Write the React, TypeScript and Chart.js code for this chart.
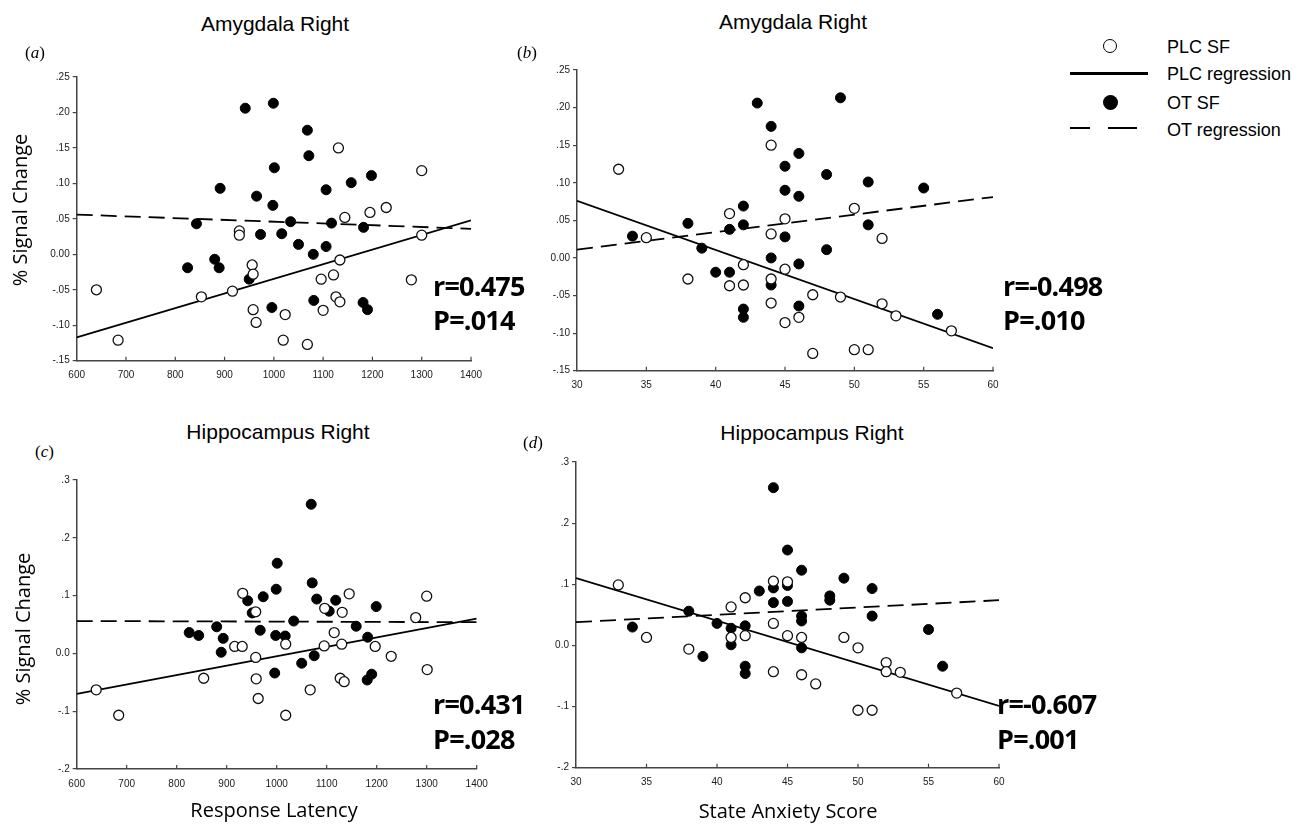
import React, { useEffect, useRef } from "react";
import { Chart, registerables } from "chart.js";

Chart.register(...registerables);

// ---------- tick values / labels ----------
const latencyTickValues = [600, 700, 800, 900, 1000, 1100, 1200, 1300, 1400];
const latencyTickLabels = ["600", "700", "800", "900", "1000", "1100", "1200", "1300", "1400"];
const anxietyTickValues = [30, 35, 40, 45, 50, 55, 60];
const anxietyTickLabels = ["30", "35", "40", "45", "50", "55", "60"];
const amygdalaTickValues = [-0.15, -0.1, -0.05, 0, 0.05, 0.1, 0.15, 0.2, 0.25];
const amygdalaTickLabels = ["-.15", "-.10", "-.05", "0.00", ".05", ".10", ".15", ".20", ".25"];
const hippoTickValues = [-0.2, -0.1, 0, 0.1, 0.2, 0.3];
const hippoTickLabels = ["-.2", "-.1", "0.0", ".1", ".2", ".3"];

// ---------- (a) Amygdala Right vs Response Latency ----------
const plcLatencyA = [1131, 1300, 1228, 1195, 1144, 930, 930, 1300, 1134, 956, 958, 1121, 1096, 1279, 640, 853, 916, 1126, 1134, 958, 964, 1023, 1100, 684, 1019, 1068];
const plcSignalA = [0.15, 0.118, 0.066, 0.059, 0.052, 0.033, 0.027, 0.027, -0.008, -0.015, -0.028, -0.029, -0.035, -0.036, -0.05, -0.06, -0.052, -0.06, -0.067, -0.078, -0.096, -0.085, -0.079, -0.121, -0.121, -0.127];
const otLatencyA = [942, 999, 1068, 1071, 1001, 1198, 891, 1106, 1157, 965, 998, 843, 1034, 1117, 1182, 973, 1016, 1050, 1106, 1080, 825, 880, 889, 950, 996, 1081, 1181, 1190];
const otSignalA = [0.206, 0.213, 0.175, 0.139, 0.122, 0.111, 0.093, 0.091, 0.101, 0.082, 0.069, 0.043, 0.046, 0.044, 0.038, 0.028, 0.029, 0.014, 0.011, 0.0, -0.019, -0.007, -0.019, -0.035, -0.075, -0.065, -0.068, -0.078];
const plcFitXA = [600, 1400];
const plcFitYA = [-0.117, 0.048];
const otFitXA = [600, 1400];
const otFitYA = [0.056, 0.036];

// ---------- (b) Amygdala Right vs State Anxiety ----------
const plcAnxietyB = [33, 44, 41, 45, 50, 35, 44, 52, 42, 45, 38, 44, 41, 42, 47, 49, 44, 52, 45, 46, 53, 57, 47, 50, 51];
const plcSignalB = [0.118, 0.15, 0.059, 0.052, 0.066, 0.027, 0.032, 0.026, -0.009, -0.015, -0.028, -0.028, -0.037, -0.036, -0.049, -0.052, -0.06, -0.061, -0.086, -0.079, -0.077, -0.097, -0.127, -0.122, -0.122];
const otAnxietyB = [43, 49, 44, 46, 45, 48, 51, 45, 55, 46, 42, 38, 42, 41, 51, 34, 45, 39, 48, 44, 46, 40, 41, 44, 42, 42, 46, 56];
const otSignalB = [0.206, 0.213, 0.175, 0.139, 0.122, 0.111, 0.101, 0.09, 0.093, 0.082, 0.069, 0.046, 0.044, 0.038, 0.044, 0.029, 0.028, 0.013, 0.011, 0.0, -0.008, -0.019, -0.019, -0.036, -0.068, -0.079, -0.064, -0.075];
const plcFitXB = [30, 60];
const plcFitYB = [0.076, -0.12];
const otFitXB = [30, 60];
const otFitYB = [0.011, 0.081];

// ---------- (c) Hippocampus Right vs Response Latency ----------
const plcLatencyC = [932, 1145, 1300, 958, 1096, 1131, 1278, 1115, 916, 931, 1018, 1095, 1130, 1197, 958, 1229, 854, 959, 1127, 1135, 1301, 639, 1067, 963, 684, 1018];
const plcSignalC = [0.104, 0.103, 0.099, 0.072, 0.078, 0.071, 0.062, 0.036, 0.012, 0.012, 0.016, 0.013, 0.016, 0.012, -0.007, -0.005, -0.043, -0.044, -0.043, -0.049, -0.028, -0.063, -0.063, -0.078, -0.107, -0.107];
const otLatencyC = [1069, 1001, 1071, 999, 973, 942, 1080, 1118, 951, 1105, 1199, 1034, 825, 844, 880, 967, 1159, 893, 998, 1017, 1182, 889, 1075, 1050, 996, 1190, 1181];
const otSignalC = [0.258, 0.156, 0.122, 0.111, 0.098, 0.091, 0.094, 0.092, 0.07, 0.073, 0.081, 0.056, 0.036, 0.031, 0.046, 0.04, 0.047, 0.026, 0.031, 0.03, 0.028, 0.002, -0.004, -0.017, -0.034, -0.036, -0.046];
const plcFitXC = [600, 1400];
const plcFitYC = [-0.07, 0.06];
const otFitXC = [600, 1400];
const otFitYC = [0.056, 0.054];

// ---------- (d) Hippocampus Right vs State Anxiety ----------
const plcAnxietyD = [33, 44, 45, 42, 41, 44, 35, 41, 42, 45, 46, 49, 38, 50, 52, 52, 53, 44, 46, 47, 57, 50, 51];
const plcSignalD = [0.099, 0.105, 0.104, 0.078, 0.063, 0.036, 0.013, 0.013, 0.016, 0.016, 0.013, 0.013, -0.006, -0.004, -0.028, -0.043, -0.044, -0.043, -0.048, -0.063, -0.078, -0.106, -0.106];
const otAnxietyD = [44, 45, 46, 49, 43, 44, 45, 51, 48, 48, 44, 45, 38, 46, 46, 51, 40, 34, 41, 42, 55, 41, 46, 39, 42, 42, 56];
const otSignalD = [0.258, 0.156, 0.123, 0.11, 0.089, 0.094, 0.098, 0.093, 0.081, 0.074, 0.07, 0.072, 0.056, 0.048, 0.04, 0.048, 0.036, 0.03, 0.028, 0.032, 0.026, 0.001, -0.004, -0.018, -0.034, -0.046, -0.034];
const plcFitXD = [30, 60];
const plcFitYD = [0.11, -0.099];
const otFitXD = [30, 60];
const otFitYD = [0.038, 0.074];

type Pt = { x: number; y: number };
const zip = (xs: number[], ys: number[]): Pt[] => xs.map((x, i) => ({ x, y: ys[i] }));

const AXIS = "#444";
const TICK_TXT = "#1a1a1a";

const innerXTicks = {
  id: "innerXTicks",
  afterDraw(chart: any) {
    const xs = chart.scales.x;
    const ctx = chart.ctx;
    const b = chart.chartArea.bottom;
    ctx.save();
    ctx.strokeStyle = AXIS;
    ctx.lineWidth = 1.2;
    xs.ticks.forEach((t: any, i: number) => {
      if (i === 0) return;
      const px = xs.getPixelForValue(t.value);
      ctx.beginPath();
      ctx.moveTo(px, b);
      ctx.lineTo(px, b - 4);
      ctx.stroke();
    });
    ctx.restore();
  },
};

interface PanelProps {
  left: number;
  top: number;
  width: number;
  height: number;
  padTop: number;
  padRight: number;
  yWidth: number;
  xHeight: number;
  xVals: number[];
  xLabels: string[];
  yVals: number[];
  yLabels: string[];
  plc: Pt[];
  ot: Pt[];
  plcFit: Pt[];
  otFit: Pt[];
}

function Panel(p: PanelProps) {
  const ref = useRef<HTMLCanvasElement>(null);
  useEffect(() => {
    if (!ref.current) return;
    const tickFont = { family: "'Liberation Sans', Arial, sans-serif", size: 10 };
    const chart = new Chart(ref.current, {
      type: "scatter",
      data: {
        datasets: [
          {
            label: "PLC SF",
            data: p.plc,
            pointStyle: "circle",
            pointRadius: 5,
            pointBackgroundColor: "#ffffff",
            pointBorderColor: "#111",
            pointBorderWidth: 1.3,
          },
          {
            label: "OT SF",
            data: p.ot,
            pointStyle: "circle",
            pointRadius: 5,
            pointBackgroundColor: "#000",
            pointBorderColor: "#000",
            pointBorderWidth: 1,
          },
          {
            label: "PLC regression",
            data: p.plcFit,
            showLine: true,
            borderColor: "#000",
            borderWidth: 1.8,
            pointRadius: 0,
            fill: false,
          } as any,
          {
            label: "OT regression",
            data: p.otFit,
            showLine: true,
            borderColor: "#000",
            borderWidth: 1.8,
            borderDash: [16, 8],
            pointRadius: 0,
            fill: false,
          } as any,
        ],
      },
      options: {
        animation: false,
        responsive: false,
        maintainAspectRatio: false,
        events: [],
        layout: { padding: { top: p.padTop, right: p.padRight, left: 0, bottom: 0 } },
        plugins: { legend: { display: false }, tooltip: { enabled: false }, title: { display: false } },
        scales: {
          x: {
            type: "linear",
            min: p.xVals[0],
            max: p.xVals[p.xVals.length - 1],
            afterBuildTicks: (s: any) => {
              s.ticks = p.xVals.map((v) => ({ value: v }));
            },
            afterFit: (s: any) => {
              s.height = p.xHeight;
            },
            ticks: {
              callback: (_v: any, i: number) => p.xLabels[i],
              padding: 9,
              font: tickFont,
              color: TICK_TXT,
              maxRotation: 0,
              autoSkip: false,
            },
            grid: { display: false, drawTicks: false },
            border: { display: true, color: AXIS, width: 1.5 },
          },
          y: {
            type: "linear",
            min: p.yVals[0],
            max: p.yVals[p.yVals.length - 1],
            afterBuildTicks: (s: any) => {
              s.ticks = p.yVals.map((v) => ({ value: v }));
            },
            afterFit: (s: any) => {
              s.width = p.yWidth;
            },
            ticks: {
              callback: (_v: any, i: number) => p.yLabels[i],
              padding: 3,
              font: tickFont,
              color: TICK_TXT,
              autoSkip: false,
            },
            grid: {
              display: true,
              drawOnChartArea: false,
              drawTicks: true,
              tickLength: 4,
              color: AXIS,
              lineWidth: 1.2,
            },
            border: { display: true, color: AXIS, width: 1.5 },
          },
        },
      } as any,
      plugins: [innerXTicks],
    });
    return () => chart.destroy();
  }, []);
  return (
    <canvas
      ref={ref}
      width={p.width}
      height={p.height}
      style={{ position: "absolute", left: p.left, top: p.top, width: p.width, height: p.height }}
    />
  );
}

const abs = (s: React.CSSProperties): React.CSSProperties => ({ position: "absolute", whiteSpace: "nowrap", lineHeight: 1, margin: 0, ...s });

const titleStyle = (cx: number, top: number) =>
  abs({ left: cx, top, transform: "translateX(-50%)", fontFamily: "'Liberation Sans', Arial, sans-serif", fontSize: 21, color: "#000" });
const letterStyle = (left: number, top: number) =>
  abs({ left, top, fontFamily: "'Liberation Serif', 'Times New Roman', serif", fontSize: 17, color: "#000" });
const statStyle = (left: number, top: number) =>
  abs({ left, top, fontFamily: "'Open Sans', sans-serif", fontWeight: 700, fontSize: 27, letterSpacing: -0.8, color: "#000" });
const axisTitleStyle = (cx: number, top: number) =>
  abs({ left: cx, top, transform: "translateX(-50%)", fontFamily: "'Open Sans', sans-serif", fontSize: 20, color: "#000" });
const yTitleStyle = (cx: number, cy: number) =>
  abs({ left: cx, top: cy, transform: "translate(-50%, -50%) rotate(-90deg)", fontFamily: "'Open Sans', sans-serif", fontSize: 20, color: "#000" });
const legendText = (top: number) =>
  abs({ left: 1167, top, fontFamily: "'Liberation Sans', Arial, sans-serif", fontSize: 18, color: "#000" });

export default function App() {
  return (
    <div style={{ position: "absolute", left: 0, top: 0, width: 1315, height: 829, overflow: "hidden", background: "#fff" }}>
      <Panel
        left={0} top={60} width={500} height={330} padTop={17} padRight={29} yWidth={76.7} xHeight={29.3}
        xVals={latencyTickValues} xLabels={latencyTickLabels} yVals={amygdalaTickValues} yLabels={amygdalaTickLabels}
        plc={zip(plcLatencyA, plcSignalA)} ot={zip(otLatencyA, otSignalA)}
        plcFit={zip(plcFitXA, plcFitYA)} otFit={zip(otFitXA, otFitYA)}
      />
      <Panel
        left={500} top={55} width={510} height={345} padTop={15} padRight={17} yWidth={77} xHeight={29.3}
        xVals={anxietyTickValues} xLabels={anxietyTickLabels} yVals={amygdalaTickValues} yLabels={amygdalaTickLabels}
        plc={zip(plcAnxietyB, plcSignalB)} ot={zip(otAnxietyB, otSignalB)}
        plcFit={zip(plcFitXB, plcFitYB)} otFit={zip(otFitXB, otFitYB)}
      />
      <Panel
        left={0} top={465} width={500} height={334} padTop={15} padRight={23.3} yWidth={76.7} xHeight={30}
        xVals={latencyTickValues} xLabels={latencyTickLabels} yVals={hippoTickValues} yLabels={hippoTickLabels}
        plc={zip(plcLatencyC, plcSignalC)} ot={zip(otLatencyC, otSignalC)}
        plcFit={zip(plcFitXC, plcFitYC)} otFit={zip(otFitXC, otFitYC)}
      />
      <Panel
        left={500} top={447} width={515} height={352} padTop={15} padRight={16} yWidth={76} xHeight={31.3}
        xVals={anxietyTickValues} xLabels={anxietyTickLabels} yVals={hippoTickValues} yLabels={hippoTickLabels}
        plc={zip(plcAnxietyD, plcSignalD)} ot={zip(otAnxietyD, otSignalD)}
        plcFit={zip(plcFitXD, plcFitYD)} otFit={zip(otFitXD, otFitYD)}
      />

      {/* panel titles */}
      <div style={titleStyle(275, 12.5)}>Amygdala Right</div>
      <div style={titleStyle(793, 10.5)}>Amygdala Right</div>
      <div style={titleStyle(278, 421)}>Hippocampus Right</div>
      <div style={titleStyle(812, 422)}>Hippocampus Right</div>

      {/* panel letters */}
      <div style={letterStyle(25, 44)}>(<i>a</i>)</div>
      <div style={letterStyle(517, 44)}>(<i>b</i>)</div>
      <div style={letterStyle(35, 443)}>(<i>c</i>)</div>
      <div style={letterStyle(523, 434)}>(<i>d</i>)</div>

      {/* statistics */}
      <div style={statStyle(433, 272)}>r=0.475</div>
      <div style={statStyle(433, 306)}>P=.014</div>
      <div style={statStyle(1003, 272)}>r=-0.498</div>
      <div style={statStyle(1003, 306)}>P=.010</div>
      <div style={statStyle(433, 690)}>r=0.431</div>
      <div style={statStyle(433, 725)}>P=.028</div>
      <div style={statStyle(997, 690)}>r=-0.607</div>
      <div style={statStyle(997, 725)}>P=.001</div>

      {/* axis titles */}
      <div style={yTitleStyle(20, 210)}>% Signal Change</div>
      <div style={yTitleStyle(23, 629)}>% Signal Change</div>
      <div style={axisTitleStyle(274, 800)}>Response Latency</div>
      <div style={axisTitleStyle(788, 801)}>State Anxiety Score</div>

      {/* legend */}
      <div style={abs({ left: 1103, top: 38.5, width: 12, height: 12, border: "1.6px solid #000", borderRadius: "50%", background: "#fff" })} />
      <div style={legendText(38)}>PLC SF</div>
      <div style={abs({ left: 1070, top: 72, width: 78, height: 2.5, background: "#000" })} />
      <div style={legendText(65)}>PLC regression</div>
      <div style={abs({ left: 1103, top: 94.5, width: 15, height: 15, borderRadius: "50%", background: "#000" })} />
      <div style={legendText(94)}>OT SF</div>
      <div style={abs({ left: 1070, top: 126.5, width: 20, height: 2.5, background: "#000" })} />
      <div style={abs({ left: 1108, top: 126.5, width: 29, height: 2.5, background: "#000" })} />
      <div style={legendText(121)}>OT regression</div>
    </div>
  );
}
